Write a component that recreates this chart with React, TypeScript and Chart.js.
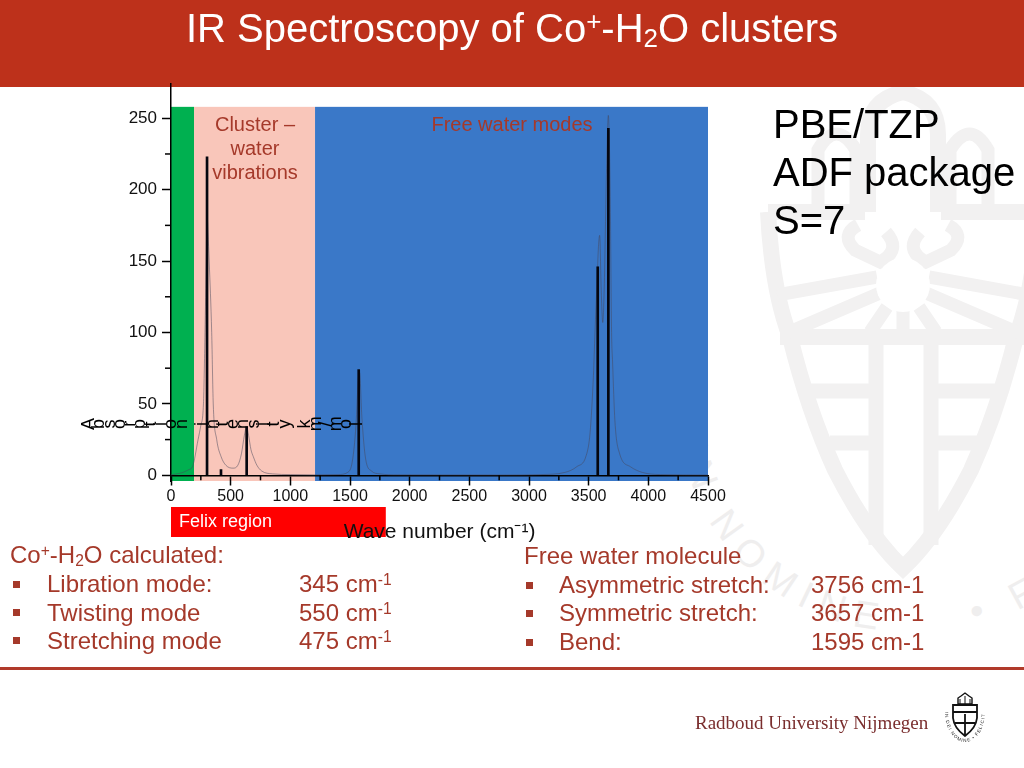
import React, { useEffect, useRef } from "react";
import { Chart, registerables } from "chart.js";

Chart.register(...registerables);

const FONT = '"Liberation Sans", Arial, sans-serif';

// --- chart data ---
const stickWave = [302, 419, 634, 1573, 3576, 3665];
const stickIntensity = [223, 4, 34, 74, 146, 243];

const curveWave = [0, 50, 100, 150, 180, 227, 250, 272, 285, 295, 302, 310, 320, 341, 354, 383, 420, 460, 520, 560, 590, 615, 634, 650, 670, 690, 720, 760, 850, 1000, 1200, 1400, 1480, 1520, 1550, 1570, 1580, 1600, 1630, 1680, 1750, 1900, 2800, 3100, 3300, 3400, 3480, 3512, 3540, 3553, 3570, 3582, 3592, 3605, 3618, 3630, 3650, 3665, 3680, 3692, 3700, 3720, 3760, 3850, 3950, 4100, 4500];
const curveIntensity = [0.3, 1, 2, 4, 6, 25, 35, 50, 100, 150, 184, 170, 150, 100, 50, 25, 13, 7, 5, 7, 15, 28, 34, 28, 18, 13, 7, 3, 1, 0.5, 0.3, 0.5, 2, 10, 35, 68, 72, 40, 12, 3, 1, 0.3, 0.2, 0.5, 2, 6, 14, 30, 70, 100, 135, 160, 168, 130, 107, 130, 215, 252, 200, 100, 80, 38, 15, 6, 2, 0.5, 0.2];

const xMajorTicks = [0, 500, 1000, 1500, 2000, 2500, 3000, 3500, 4000, 4500];
const xMinorTicks = [250, 750, 1250, 1750, 2250, 2750, 3250, 3750, 4250];
const yMajorTicks = [0, 50, 100, 150, 200, 250];
const yMinorTicks = [25, 75, 125, 175, 225];

const bandStart = [0, 193, 1207];
const bandEnd = [193, 1207, 4500];
const bandColors = ["#00B050", "#F9C6BA", "#3A78C8"];
const felixRange = [0, 1800];

const xTitle = "Wave number (cm\u207B\u00B9)";
const yTitle = "Absorption intensity km/mol";

const bandsPlugin = {
  id: "bands",
  beforeDraw(chart: any) {
    const { ctx, scales } = chart;
    const { x, y } = scales;
    ctx.save();
    bandStart.forEach((from, i) => {
      ctx.fillStyle = bandColors[i];
      const x0 = x.getPixelForValue(from);
      const x1 = x.getPixelForValue(bandEnd[i]);
      const top = y.getPixelForValue(258);
      const bottom = y.getPixelForValue(-4);
      ctx.fillRect(x0, top, x1 - x0, bottom - top);
    });
    ctx.fillStyle = "#FF0000";
    const fx0 = x.getPixelForValue(felixRange[0]);
    const fx1 = x.getPixelForValue(felixRange[1]);
    ctx.fillRect(fx0, 507, fx1 - fx0, 30);
    ctx.restore();
  },
  afterDraw(chart: any) {
    const { ctx, scales } = chart;
    const { x, y } = scales;
    ctx.save();
    ctx.strokeStyle = "#000";
    ctx.lineWidth = 1.5;
    xMinorTicks.forEach((v) => {
      const px = x.getPixelForValue(v);
      const py = y.getPixelForValue(0);
      ctx.beginPath();
      ctx.moveTo(px, py);
      ctx.lineTo(px, py + 5);
      ctx.stroke();
    });
    yMinorTicks.forEach((v) => {
      const px = x.getPixelForValue(0);
      const py = y.getPixelForValue(v);
      ctx.beginPath();
      ctx.moveTo(px, py);
      ctx.lineTo(px - 6, py);
      ctx.stroke();
    });
    // the reference's y title: a row of letters, each one turned on its side
    ctx.fillStyle = "#000";
    ctx.font = `18px ${FONT}`;
    ctx.textAlign = "center";
    ctx.textBaseline = "middle";
    const cy = y.getPixelForValue(36);
    Array.from(yTitle).forEach((ch, i) => {
      ctx.save();
      ctx.translate(89 + i * 10.3, cy);
      ctx.rotate(-Math.PI / 2);
      ctx.fillText(ch, 0, 0);
      ctx.restore();
    });
    ctx.restore();
  },
};

const RED_TEXT = "#A5392A";

function T({ x, y, size = 24, color = RED_TEXT, children, center }: any) {
  return (
    <div
      style={{
        position: "absolute",
        left: x,
        top: y,
        fontSize: size,
        lineHeight: 1,
        color,
        whiteSpace: "nowrap",
        fontFamily: FONT,
        transform: center ? "translate(-50%,-50%)" : "translateY(-50%)",
      }}
    >
      {children}
    </div>
  );
}

function B({ x, y }: any) {
  return <div style={{ position: "absolute", left: x, top: y - 3.5, width: 7, height: 7, background: RED_TEXT }} />;
}

const supStyle: any = { fontSize: "0.65em", verticalAlign: "0.45em", lineHeight: 0 };
const subStyle: any = { fontSize: "0.65em", verticalAlign: "-0.2em", lineHeight: 0 };
const Sup = ({ children }: any) => <span style={supStyle}>{children}</span>;
const Sub = ({ children }: any) => <span style={subStyle}>{children}</span>;

export default function App() {
  const ref = useRef<HTMLCanvasElement>(null);

  useEffect(() => {
    const chart = new Chart(ref.current as HTMLCanvasElement, {
      type: "bar",
      plugins: [bandsPlugin],
      data: {
        datasets: [
          {
            type: "line",
            data: curveWave.map((w, i) => ({ x: w, y: curveIntensity[i] })),
            borderColor: "rgba(70,70,90,0.5)",
            borderWidth: 1,
            pointRadius: 0,
            cubicInterpolationMode: "monotone",
            order: 2,
          },
          {
            type: "bar",
            data: stickWave.map((w, i) => ({ x: w, y: stickIntensity[i] })),
            backgroundColor: "#05060f",
            barThickness: 2,
            order: 1,
          },
        ],
      } as any,
      options: {
        responsive: false,
        animation: false,
        events: [],
        layout: { padding: { left: 111, right: 316, top: 84, bottom: 287 } },
        plugins: { legend: { display: false }, tooltip: { enabled: false }, title: { display: false } },
        scales: {
          x: {
            type: "linear",
            position: { y: 0 },
            offset: false,
            min: 0,
            max: 4500,
            afterBuildTicks: (s: any) => {
              s.ticks = xMajorTicks.map((value) => ({ value }));
            },
            grid: { drawOnChartArea: false, offset: false, tickLength: 9, tickColor: "#000", tickWidth: 1.5 },
            border: { display: true, color: "#000", width: 1.5 },
            ticks: { color: "#111", font: { family: FONT, size: 16 }, padding: 3, maxRotation: 0, autoSkip: false, callback: (v: any) => String(v) },
            title: { display: true, text: xTitle, color: "#111", font: { family: FONT, size: 21 }, padding: { top: 10, bottom: 0 } },
          },
          y: {
            type: "linear",
            min: -4,
            max: 274,
            afterBuildTicks: (s: any) => {
              s.ticks = yMajorTicks.map((value) => ({ value }));
            },
            afterFit: (s: any) => {
              s.width = 60;
            },
            grid: { drawOnChartArea: false, tickLength: 9, tickColor: "#000", tickWidth: 1.5 },
            border: { display: true, color: "#000", width: 1.5 },
            ticks: { color: "#111", font: { family: FONT, size: 17 }, padding: 5, autoSkip: false, callback: (v: any) => String(v) },
          },
        },
      } as any,
    });
    return () => chart.destroy();
  }, []);

  const wm = "#F2F1F1";
  return (
    <div style={{ position: "fixed", left: 0, top: 0, width: 1024, height: 768, overflow: "hidden", background: "#fff" }}>
      {/* faint crest watermark */}
      <svg width={1024} height={768} style={{ position: "absolute", left: 0, top: 0 }}>
        <g fill="none" stroke={wm} strokeWidth={16}>
          <path d="M768 212 L865 212 M941 212 L1040 212" />
          <path d="M768 212 Q772 290 790 337 Q808 410 835 470 Q868 535 903 568 Q938 535 971 470 Q998 410 1016 337 Q1034 290 1038 212" />
          <path d="M780 337 H1026" />
          <path d="M876 337 V545 M931 337 V545" strokeWidth={15} />
          <path d="M805 391 H876 M931 391 H1002 M830 443 H876 M931 443 H977" strokeWidth={15} />
          <path d="M877 277 L777 295 M880 293 L787 333 M887 307 L870 332 M903 307 V335 M919 307 L936 332 M926 293 L1019 333 M929 277 L1029 295" strokeWidth={13} />
          <path d="M858 225 Q840 235 855 250 L880 262 Q902 250 886 232 M948 225 Q966 235 951 250 L926 262 Q904 250 920 232" strokeWidth={13} />
          <path d="M868 212 V135 Q868 100 903 92 Q938 100 938 135 V212" />
          <path d="M950 205 V150 Q970 118 988 150 V205 M856 205 V150 Q836 118 818 150 V205" strokeWidth={13} />
        </g>
        <circle cx={903} cy={285} r={27} fill="#fff" />
        <defs>
          <path id="wmArc" d="M 730 262 A 225 225 0 0 0 925 630 A 225 225 0 0 0 1150 405" />
        </defs>
        <text fill="#EFEEEE" fontSize={38} fontFamily={FONT} letterSpacing={11}>
          <textPath href="#wmArc" startOffset="195">{"IN NOMINE\u00A0\u00A0\u00A0 • FELICITER"}</textPath>
        </text>
      </svg>

      <div style={{ position: "absolute", left: 0, top: 0, width: 1024, height: 87, background: "#BD311B" }} />
      <div style={{ position: "absolute", left: 0, top: 667, width: 1024, height: 3, background: "#B03A2A" }} />

      <canvas ref={ref} width={1024} height={768} style={{ position: "absolute", left: 0, top: 0, display: "block" }} />

      <T x={512} y={28} size={40} color="#fff" center>
        IR Spectroscopy of Co<Sup>+</Sup>-H<Sub>2</Sub>O clusters
      </T>

      <T x={255} y={124} size={20} center>Cluster –</T>
      <T x={255} y={148} size={20} center>water</T>
      <T x={255} y={172} size={20} center>vibrations</T>
      <T x={512} y={124} size={20} center>Free water modes</T>
      <T x={179} y={521} size={18} color="#fff">Felix region</T>

      <T x={773} y={124} size={40} color="#000">PBE/TZP</T>
      <T x={773} y={172} size={40} color="#000">ADF package</T>
      <T x={773} y={220} size={40} color="#000">S=7</T>

      <T x={10} y={555}>Co<Sup>+</Sup>-H<Sub>2</Sub>O calculated:</T>
      <B x={13} y={584} /><T x={47} y={584}>Libration mode:</T>
      <B x={13} y={612} /><T x={47} y={613}>Twisting mode</T>
      <B x={13} y={640} /><T x={47} y={641}>Stretching mode</T>

      <T x={299} y={584}>345 cm<Sup>-1</Sup></T>
      <T x={299} y={613}>550 cm<Sup>-1</Sup></T>
      <T x={299} y={641}>475 cm<Sup>-1</Sup></T>

      <T x={524} y={556}>Free water molecule</T>
      <B x={526} y={585} /><T x={559} y={585}>Asymmetric stretch:</T>
      <B x={526} y={613} /><T x={559} y={613}>Symmetric stretch:</T>
      <B x={526} y={642} /><T x={559} y={642}>Bend:</T>

      <T x={811} y={585}>3756 cm-1</T>
      <T x={811} y={613}>3657 cm-1</T>
      <T x={811} y={642}>1595 cm-1</T>

      <div style={{ position: "absolute", left: 695, top: 713, fontFamily: '"Liberation Serif", serif', fontSize: 19, color: "#7A2E2E", whiteSpace: "nowrap", lineHeight: "20px" }}>
        Radboud University Nijmegen
      </div>
      {/* small crest */}
      <svg width={50} height={58} style={{ position: "absolute", left: 940, top: 690 }}>
        <g fill="none" stroke="#111">
          <path d="M13 15 H37 V28 Q36 38 25 46 Q14 38 13 28 Z" strokeWidth={1.8} />
          <path d="M13 22 H37 M25 24 V45 M15 33 H35" strokeWidth={1.8} />
          <path d="M18 14 V8 L21 6 L25 3 L29 6 L32 8 V14 Z" strokeWidth={1.4} />
          <path d="M20 14 V9 M25 14 V6 M30 14 V9" strokeWidth={1} />
        </g>
        <defs>
          <path id="crestArc" d="M 5 22 A 20 30 0 0 0 45 22" />
        </defs>
        <text fill="#222" fontSize={4.6} fontFamily={FONT} letterSpacing={1}>
          <textPath href="#crestArc">IN DEI NOMINE • FELICITER</textPath>
        </text>
      </svg>
    </div>
  );
}
